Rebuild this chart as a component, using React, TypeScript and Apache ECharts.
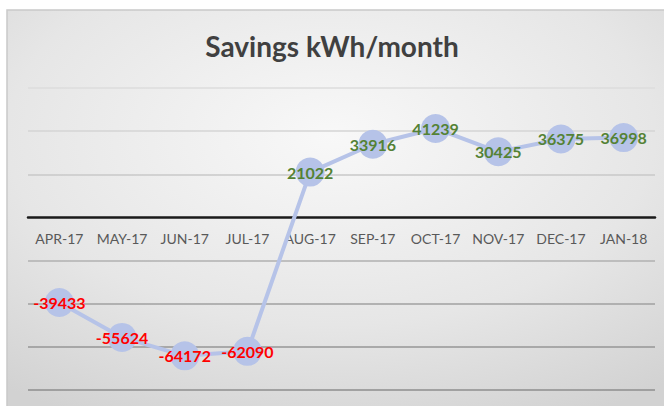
import React, { useEffect, useRef } from "react";
import * as echarts from "echarts";

const months = ["APR-17", "MAY-17", "JUN-17", "JUL-17", "AUG-17", "SEP-17", "OCT-17", "NOV-17", "DEC-17", "JAN-18"];
const savings = [-39433, -55624, -64172, -62090, 21022, 33916, 41239, 30425, 36375, 36998];
const titleText = "Savings kWh/month";

export default function App() {
  const ref = useRef<HTMLDivElement>(null);
  useEffect(() => {
    if (!ref.current) return;
    const chart = echarts.init(ref.current, null, { renderer: "svg" });
    chart.setOption({
      animation: false,
      graphic: [
        {
          type: "rect",
          z: -10,
          shape: { x: 7, y: 10, width: 720, height: 420 },
          style: {
            fill: new echarts.graphic.RadialGradient(0.45, 0.3, 0.75, [
              { offset: 0, color: "#f8f8f8" },
              { offset: 0.6, color: "#e6e6e6" },
              { offset: 1, color: "#d2d2d2" },
            ]),
            stroke: "#c9c9c9",
            lineWidth: 1.5,
          },
        },
      ],
      title: {
        text: titleText,
        left: "center",
        top: 27,
        textStyle: { fontFamily: "Lato", fontWeight: "bold", fontSize: 28, color: "#404040" },
      },
      grid: [
        { left: 28, right: 9, top: 88, bottom: 16, containLabel: false, outerBoundsMode: "none" },
        { left: 28, right: 9, top: 88, bottom: 188, containLabel: false, outerBoundsMode: "none" },
      ],
      xAxis: [
        {
          type: "category",
          gridIndex: 0,
          data: months,
          boundaryGap: true,
          axisLine: { onZero: true, lineStyle: { color: "#1a1a1a", width: 2.5 } },
          axisTick: { show: false },
          axisLabel: { show: false },
          z: 1,
        },
        {
          type: "category",
          gridIndex: 1,
          data: months,
          boundaryGap: true,
          axisLine: { show: false },
          axisTick: { show: false },
          axisLabel: { interval: 0, color: "#595959", fontFamily: "Lato", fontSize: 14, margin: 13 },
        },
      ],
      yAxis: [
        {
          type: "value",
          gridIndex: 0,
          min: -80000,
          max: 60000,
          interval: 20000,
          axisLabel: { show: false },
          axisLine: { show: false },
          axisTick: { show: false },
          splitLine: {
            lineStyle: {
              width: 1.5,
              color: ["#8e8e8e", "#969696", "#a0a0a0", "#b0b0b0", "#ffffff00", "#c8c8c8", "#d4d4d4", "#dcdcdc"],
            },
          },
        },
        {
          type: "value",
          gridIndex: 1,
          min: 0,
          max: 60000,
          show: false,
          splitLine: { show: false },
        },
      ],
      series: [
        {
          type: "line",
          xAxisIndex: 0,
          yAxisIndex: 0,
          data: savings.map((v) => ({
            value: v,
            label: { color: v < 0 ? "#ff0000" : "#548235" },
          })),
          symbol: "circle",
          symbolSize: 29,
          lineStyle: { color: "#b6c3e8", width: 4 },
          itemStyle: { color: "#b6c3e8" },
          label: {
            show: true,
            position: "inside",
            fontFamily: "'Liberation Sans Narrow', Lato",
            fontWeight: "bold",
            fontSize: 16,
          },
          z: 3,
        },
      ],
    });
    return () => chart.dispose();
  }, []);
  return <div ref={ref} style={{ position: "absolute", left: 0, top: 0, width: 664, height: 406 }} />;
}
